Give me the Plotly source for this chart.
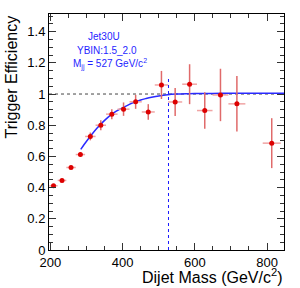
import plotly.graph_objects as go

# ---- data ----
mass_center = [208.5, 232, 257, 283, 310.5, 339.5, 370, 402.5, 436, 471,
               507.5, 545.5, 585.5, 627.5, 671, 716.5, 813]
mass_halfwidth = [11.5, 12, 13, 13, 14.5, 14.5, 16, 16.5, 17, 18,
                  18.5, 19.5, 20.5, 21.5, 22, 23.5, 25]
efficiency = [0.412, 0.446, 0.529, 0.612, 0.728, 0.800, 0.871, 0.903, 0.950, 0.885,
              1.058, 0.949, 1.063, 0.894, 0.994, 0.937, 0.685]
eff_err = [0.008, 0.009, 0.010, 0.013, 0.025, 0.032, 0.032, 0.043, 0.045, 0.050,
           0.090, 0.090, 0.128, 0.117, 0.168, 0.178, 0.160]

fit_x = [284, 300, 315, 330, 345, 360, 375, 390, 405, 420, 435, 450, 465, 480,
         500, 525, 550, 575, 600, 650, 700, 750, 800, 847]
fit_y = [0.645, 0.697, 0.742, 0.783, 0.820, 0.852, 0.879, 0.900, 0.918, 0.935,
         0.950, 0.962, 0.971, 0.979, 0.988, 0.996, 1.000, 1.002, 1.003, 1.004,
         1.005, 1.005, 1.005, 1.005]

mjj_cut = 527
mjj_line_top = 1.11
ref_level = 1.0

x_ticks = [200, 400, 600, 800]
y_ticks = [0, 0.2, 0.4, 0.6, 0.8, 1, 1.2, 1.4]
y_ticklabels = ["0", "0.2", "0.4", "0.6", "0.8", "1", "1.2", "1.4"]

label_lines = ["Jet30U", "YBIN:1.5_2.0", "M<sub>jj</sub> = 527 GeV/c<sup>2</sup>"]

FONT = "Liberation Sans, Arial, Helvetica, sans-serif"

fig = go.Figure()

fig.add_trace(go.Scatter(
    x=fit_x, y=fit_y, mode="lines", line=dict(color="#2a2aff", width=1.5, shape="spline"),
    hoverinfo="skip", showlegend=False))

fig.add_trace(go.Scatter(
    x=mass_center, y=efficiency, mode="markers",
    marker=dict(color="#dd0000", size=5, symbol="circle"),
    error_x=dict(type="data", array=mass_halfwidth, color="#f0a4a4", thickness=1.5, width=0),
    error_y=dict(type="data", array=eff_err, color="#e06a6a", thickness=1.5, width=0),
    showlegend=False))

fig.add_shape(type="line", xref="paper", yref="y", x0=0, x1=1, y0=ref_level, y1=ref_level,
              line=dict(color="#444444", width=1, dash="dot"), layer="below")
fig.add_shape(type="line", xref="x", yref="y", x0=mjj_cut, x1=mjj_cut, y0=0, y1=mjj_line_top,
              line=dict(color="#1a1aff", width=1, dash="dot"), layer="above")

# text block
L, R, T, B = 49, 16, 14, 38
W, H = 300, 288
pw, ph = W - L - R, H - T - B

def px_x(px):
    return (px - L) / pw

def px_y(py):
    return (H - B - py) / ph

centers = [(104, 37), (107, 50.5), (110, 63.5)]
for txt, (cx, cy) in zip(label_lines, centers):
    fig.add_annotation(text=txt, xref="paper", yref="paper", x=px_x(cx), y=px_y(cy),
                       xanchor="center", yanchor="middle", showarrow=False,
                       font=dict(family=FONT, size=10, color="#1f1fff"))

fig.add_annotation(text="Trigger Efficiency", xref="paper", yref="paper",
                   x=px_x(11), y=1, xanchor="center", yanchor="top", textangle=-90,
                   showarrow=False, font=dict(family=FONT, size=16, color="black"))
fig.add_annotation(text="Dijet Mass (GeV/c<sup>2</sup>)", xref="paper", yref="paper",
                   x=1, y=px_y(275.5), xanchor="right", yanchor="middle",
                   showarrow=False, font=dict(family=FONT, size=16, color="black"))

axis_common = dict(showgrid=False, zeroline=False, showline=True, linecolor="black",
                   linewidth=1, mirror="ticks", ticks="inside", tickcolor="#333333",
                   tickwidth=1, ticklen=7,
                   tickfont=dict(family=FONT, size=13, color="black"))

fig.update_xaxes(range=[196, 847], tickvals=x_ticks,
                 minor=dict(dtick=50, tick0=0, ticks="inside", ticklen=4, tickcolor="#333333",
                            tickwidth=1, showgrid=False),
                 **axis_common)
fig.update_yaxes(range=[0, 1.513], tickvals=y_ticks, ticktext=y_ticklabels,
                 minor=dict(dtick=0.05, tick0=0, ticks="inside", ticklen=4, tickcolor="#333333",
                            tickwidth=1, showgrid=False),
                 **axis_common)

fig.update_layout(width=W, height=H, margin=dict(l=L, r=R, t=T, b=B, pad=0),
                  paper_bgcolor="white", plot_bgcolor="white",
                  font=dict(family=FONT))

fig.write_html("out.html", config={"displayModeBar": False},
               post_script="document.body.style.margin='0';document.body.style.padding='0';")
